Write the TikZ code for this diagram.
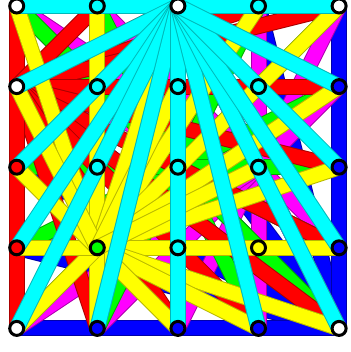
\documentclass[tikz,border=0pt]{standalone}
\usepackage{tikz}
\definecolor{cyF}{RGB}{0,255,255}\definecolor{cyB}{RGB}{0,185,185}
\definecolor{yeF}{RGB}{255,255,0}\definecolor{yeB}{RGB}{185,185,0}
\definecolor{reF}{RGB}{255,0,0}\definecolor{reB}{RGB}{170,0,0}
\definecolor{grF}{RGB}{0,255,0}\definecolor{grB}{RGB}{0,170,0}
\definecolor{maF}{RGB}{255,0,255}\definecolor{maB}{RGB}{170,0,170}
\definecolor{blF}{RGB}{0,0,255}\definecolor{blB}{RGB}{0,0,170}
\tikzset{
  band/.style={line width=1pt, double distance=14pt},
  bandcy/.style={band, draw=cyB, double=cyF},
  bandye/.style={band, draw=yeB, double=yeF},
  bandre/.style={band, draw=reB, double=reF},
  bandgr/.style={band, draw=grB, double=grF},
  bandma/.style={band, draw=maB, double=maF},
  bandbl/.style={band, draw=blB, double=blF},
  dot/.style={circle, draw=black, line width=3pt, minimum size=14pt, inner sep=0pt}
}
\begin{document}
\begin{tikzpicture}[x=1pt,y=-1pt]
\useasboundingbox (0,0) rectangle (350,352);
\clip (0,0) rectangle (350,352);
\foreach \c in {0,...,4}{
  \foreach \r in {0,...,4}{
    \coordinate (p\c\r) at ({16.7+80.6*\c},{6+80.6*\r});
  }
}
% blue fan from p44
\foreach \t in {p00,p10,p20,p30,p01,p02,p03,p40,p04}{\draw[bandbl] (p44) -- (\t);}
% magenta fan from p32
\foreach \t in {p00,p10,p20,p30,p40,p41,p42,p43,p44,p34,p24,p14,p04,p03,p02,p01}{\draw[bandma] (p32) -- (\t);}
% green fan from p22
\foreach \t in {p00,p10,p20,p30,p40,p41,p42,p43,p44,p34,p24,p14,p04,p03,p02,p01}{\draw[bandgr] (p22) -- (\t);}
% red fan from p01
\foreach \t in {p00,p10,p20,p30,p40,p41,p42,p43,p44,p34,p24,p14,p04}{\draw[bandre] (p01) -- (\t);}
% yellow fan from p13
\foreach \t in {p00,p10,p20,p30,p40,p41,p42,p43,p44,p34,p24,p14,p04,p03,p02,p01,p21,p32}{\draw[bandye] (p13) -- (\t);}
% cyan fan from p20
\foreach \t in {p00,p40,p01,p02,p03,p04,p14,p24,p34,p44,p43,p42,p41}{\draw[bandcy] (p20) -- (\t);}
% nodes
\node[dot, fill=white] (v00) at (p00) {};
\node[dot, fill=cyF] (v10) at (p10) {};
\node[dot, fill=white] (v20) at (p20) {};
\node[dot, fill=cyF] (v30) at (p30) {};
\node[dot, fill=white] (v40) at (p40) {};
\node[dot, fill=white] (v01) at (p01) {};
\node[dot, fill=cyF] (v11) at (p11) {};
\node[dot, fill=cyF] (v21) at (p21) {};
\node[dot, fill=cyF] (v31) at (p31) {};
\node[dot, fill=blF] (v41) at (p41) {};
\node[dot, fill=reF] (v02) at (p02) {};
\node[dot, fill=cyF] (v12) at (p12) {};
\node[dot, fill=cyF] (v22) at (p22) {};
\node[dot, fill=cyF] (v32) at (p32) {};
\node[dot, fill=blF] (v42) at (p42) {};
\node[dot, fill=reF] (v03) at (p03) {};
\node[dot, fill=grF] (v13) at (p13) {};
\node[dot, fill=cyF] (v23) at (p23) {};
\node[dot, fill=yeF] (v33) at (p33) {};
\node[dot, fill=blF] (v43) at (p43) {};
\node[dot, fill=white] (v04) at (p04) {};
\node[dot, fill=blF] (v14) at (p14) {};
\node[dot, fill=blF] (v24) at (p24) {};
\node[dot, fill=blF] (v34) at (p34) {};
\node[dot, fill=white] (v44) at (p44) {};
\end{tikzpicture}
\end{document}
